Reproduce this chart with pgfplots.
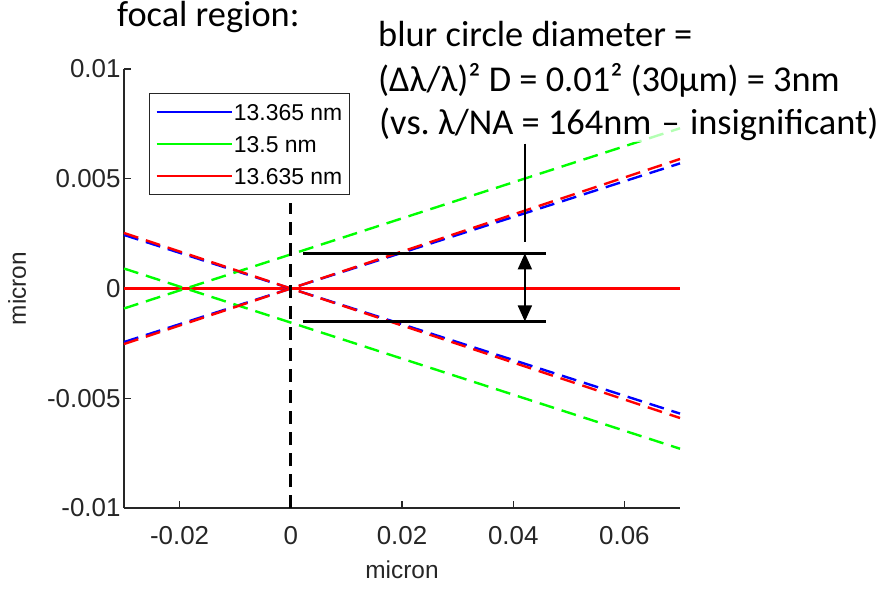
\documentclass[border=0pt]{standalone}
\usepackage{pgfplots}
\pgfplotsset{compat=1.18}
\usepackage{fontspec}
\setmainfont{Liberation Sans}
\newfontfamily\calib{Carlito}
\usetikzlibrary{arrows.meta}
\definecolor{axgray}{RGB}{38,38,38}
\definecolor{mblue}{RGB}{0,0,255}
\definecolor{mgreen}{RGB}{0,255,0}
\definecolor{mred}{RGB}{255,0,0}
\frenchspacing
\begin{document}
\begin{tikzpicture}
\useasboundingbox (-124bp,-84bp) rectangle (760bp,508bp);
\begin{axis}[
  scale only axis,
  width=556bp, height=439bp,
  xmin=-0.03, xmax=0.07,
  ymin=-0.01, ymax=0.01,
  scaled ticks=false,
  axis x line*=bottom, axis y line*=left,
  axis line style={axgray, line width=1.6bp, -},
  tick align=inside,
  major tick length=7bp,
  tick style={axgray, line width=1.4bp},
  xtick={-0.02,0,0.02,0.04,0.06},
  xticklabels={-0.02,0,0.02,0.04,0.06},
  ytick={-0.01,-0.005,0,0.005,0.01},
  yticklabels={-0.01,-0.005,0,0.005,0.01},
  ticklabel style={font=\fontsize{26}{30}\selectfont, text=axgray},
  xticklabel shift=15bp,
  xlabel={micron}, ylabel={micron},
  label style={font=\fontsize{24.5}{28}\selectfont, text=axgray},
  xlabel shift=9bp, ylabel shift=14bp,
  legend style={at={(0.045,0.945)}, anchor=north west,
    draw=axgray, line width=0.8bp,
    font=\fontsize{23}{28}\selectfont, inner xsep=6bp, inner ysep=9bp,
    row sep=13bp,
    nodes={inner sep=1bp, text height=17bp, text depth=0bp},
    cells={anchor=west}},
  legend image code/.code={\draw[#1] (0bp,0bp) -- (75bp,0bp);},
  clip=false,
]
% solid lines on the axis (legend entries)
\addplot[mblue, line width=2.5bp] coordinates {(-0.03,0) (0.07,0)};
\addplot[mgreen, line width=2.5bp] coordinates {(-0.03,0) (0.07,0)};
\addplot[mred, line width=2.5bp] coordinates {(-0.03,0) (0.07,0)};
\legend{13.365 nm, 13.5 nm, 13.635 nm}
% dashed rays
\addplot[mblue, line width=2.4bp, dash pattern=on 15bp off 8bp, forget plot] coordinates {(-0.03,-0.00244) (0.07,0.0057)};
\addplot[mblue, line width=2.4bp, dash pattern=on 15bp off 8bp, forget plot] coordinates {(-0.03,0.00244) (0.07,-0.0057)};
\addplot[mgreen, line width=2.4bp, dash pattern=on 15bp off 8bp, forget plot] coordinates {(-0.03,-0.00091) (0.07,0.0073)};
\addplot[mgreen, line width=2.4bp, dash pattern=on 15bp off 8bp, forget plot] coordinates {(-0.03,0.00091) (0.07,-0.0073)};
\addplot[mred, line width=2.4bp, dash pattern=on 15bp off 8bp, forget plot] coordinates {(-0.03,-0.00253) (0.07,0.0059)};
\addplot[mred, line width=2.4bp, dash pattern=on 15bp off 8bp, forget plot] coordinates {(-0.03,0.00253) (0.07,-0.0059)};
% focal plane marker and blur circle
\addplot[black, line width=3bp, dash pattern=on 13bp off 8bp, forget plot] coordinates {(0,-0.01) (0,0.0039)};
\addplot[black, line width=2.8bp, forget plot] coordinates {(0.0022,0.0016) (0.0459,0.0016)};
\addplot[black, line width=2.8bp, forget plot] coordinates {(0.0022,-0.0015) (0.0459,-0.0015)};
\addplot[black, line width=1.8bp, forget plot] coordinates {(0.0421,0.0066) (0.0421,0.0021)};
\draw[black, line width=1.8bp, {Triangle[width=14bp,length=16bp]}-{Triangle[width=14bp,length=16bp]}]
  (axis cs:0.0421,0.0016) -- (axis cs:0.0421,-0.0015);
\end{axis}
\node[anchor=base west, inner sep=0pt, font=\calib\fontsize{36.5}{44}\selectfont] at (-7bp,481bp) {focal region:};
\node[anchor=base west, inner sep=0pt, font=\calib\fontsize{36.5}{44}\selectfont] at (254bp,461bp) {blur circle diameter =};
\node[anchor=base west, inner sep=0pt, font=\calib\fontsize{36.5}{44}\selectfont] at (254bp,416bp) {(Δλ/λ)² D = 0.01² (30µm) = 3nm};
\node[anchor=base west, inner sep=1pt, fill=white, fill opacity=0.7, text opacity=1, font=\calib\fontsize{36.5}{44}\selectfont] at (254bp,373bp) {(vs. λ/NA = 164nm\hspace{2bp} –\hspace{2bp} insignificant)};
\end{tikzpicture}
\end{document}
